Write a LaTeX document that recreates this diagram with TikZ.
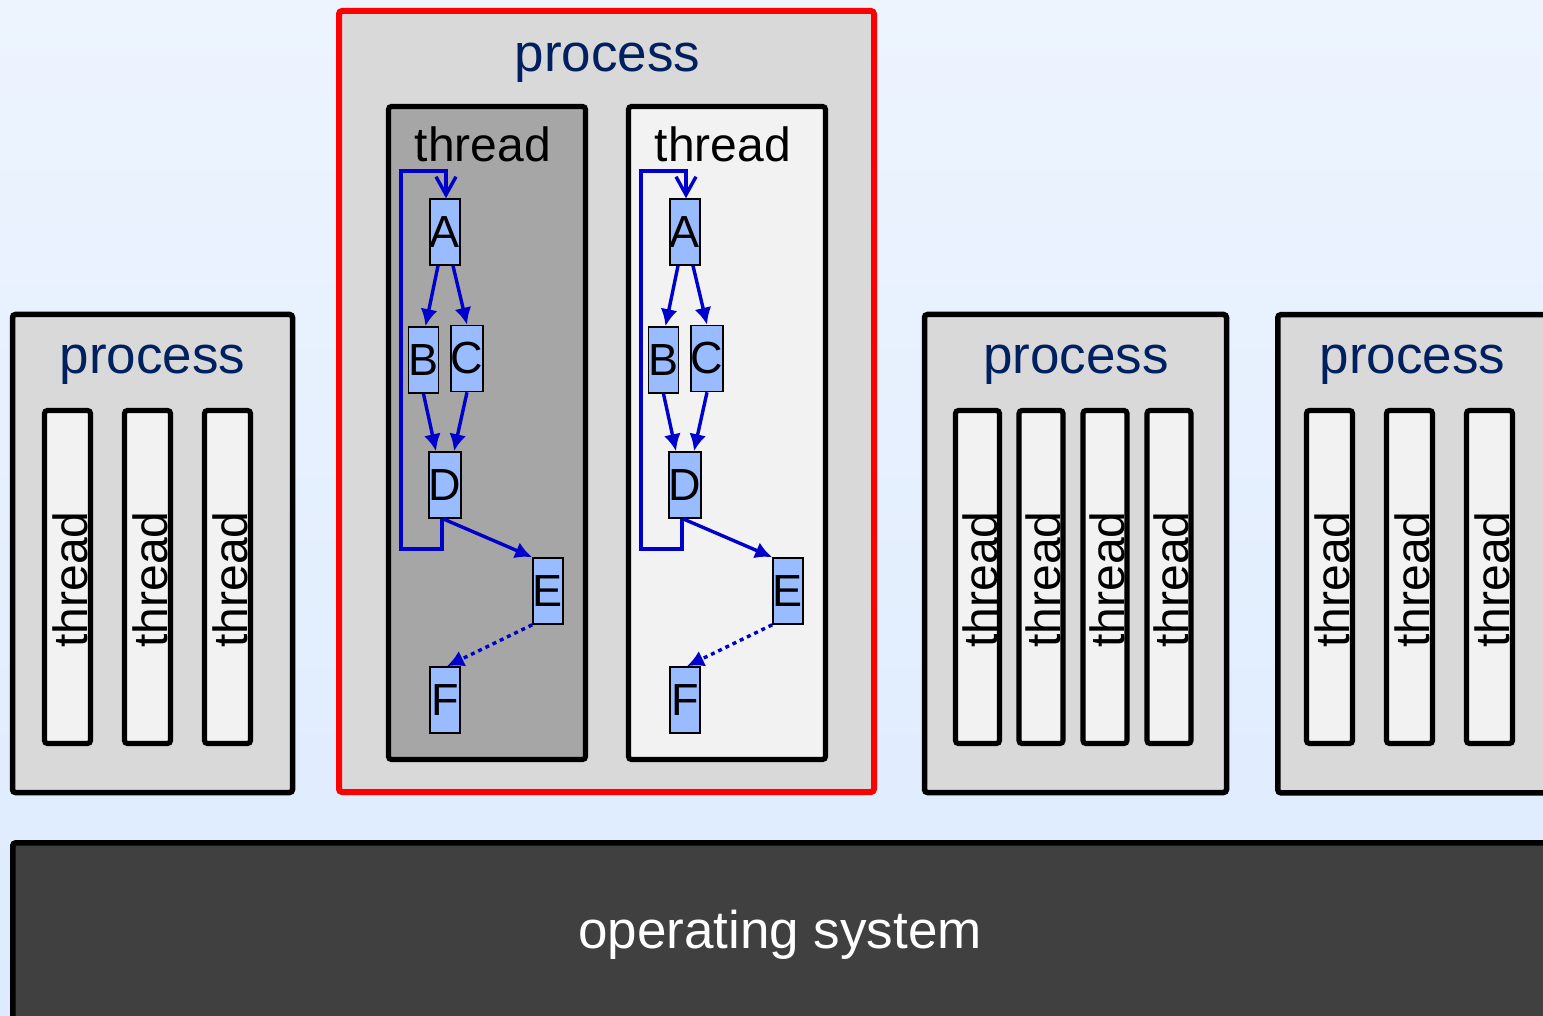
\documentclass[tikz,border=0pt]{standalone}
\usepackage{fontspec}
\setmainfont{Liberation Sans}
\usetikzlibrary{arrows.meta,calc}

\definecolor{bgtop}{RGB}{237,244,254}
\definecolor{bgbot}{RGB}{221,235,254}
\definecolor{procfill}{RGB}{217,217,217}
\definecolor{thrlight}{RGB}{242,242,242}
\definecolor{thrdark}{RGB}{166,166,166}
\definecolor{osfill}{RGB}{64,64,64}
\definecolor{navy}{RGB}{0,32,96}
\definecolor{taskfill}{RGB}{153,187,255}
\definecolor{edgeblue}{RGB}{0,0,204}

\tikzset{
  procbox/.style={draw=black, line width=2.75pt, fill=procfill, rounded corners=1.5pt,
    inner sep=0pt, rectangle},
  redbox/.style={procbox, draw=red, line width=3pt},
  thrbox/.style={draw=black, line width=2.6pt, fill=thrlight, rounded corners=1.5pt,
    inner sep=0pt, rectangle},
  smallthr/.style={thrbox, minimum width=23pt, minimum height=166.5pt},
  osbox/.style={draw=black, line width=2.75pt, fill=osfill, rounded corners=1.5pt,
    inner sep=0pt, rectangle},
  proclabel/.style={text=navy, font=\fontsize{26.5}{30}\selectfont, anchor=base, inner sep=0pt},
  thrlabel/.style={font=\fontsize{24}{28}\selectfont, anchor=base, inner sep=0pt},
  vthrlabel/.style={font=\fontsize{24}{28}\selectfont, rotate=90, inner sep=0pt},
  task/.style={draw=black, line width=0.8pt, fill=taskfill, inner sep=0pt,
    minimum width=15pt, minimum height=33pt, font=\fontsize{22.5}{26}\selectfont},
  flow/.style={draw=edgeblue, line width=1.7pt, -{Latex[length=8.5pt,width=8.5pt]}},
  loopback/.style={draw=edgeblue, line width=1.7pt, -{Straight Barb[length=9pt,width=10pt,line width=1.7pt]}},
  spawn/.style={flow, dash pattern=on 2pt off 2pt},
}

\begin{document}
\begin{tikzpicture}[x=0.5pt, y=-0.5pt]
  % page and background
  \useasboundingbox (0,0) rectangle (1543,1016);
  \shade[top color=bgtop, bottom color=bgbot] (0,0) rectangle (1543,1016);
  \clip (0,0) rectangle (1543,1016);

  % operating system bar
  \node[osbox, minimum width=778pt, minimum height=95pt, anchor=north west] (os) at (10,840) {};
  \node[text=white, font=\fontsize{26.5}{30}\selectfont, anchor=base, inner sep=0pt] (oslabel) at (780,948) {operating system};

  % left process with three threads
  \node[procbox, minimum width=140pt, minimum height=239pt] (p1) at (152.5,553.5) {};
  \node[proclabel] (p1label) at (152.5,373) {process};
  \foreach \i/\x in {1/67.5, 2/147.5, 3/227.5} {
    \node[smallthr] (p1t\i) at (\x,577) {};
    \node[vthrlabel] (p1t\i label) at (\x+2.5,579.5) {thread};
  }

  % highlighted process with two threads
  \node[redbox, minimum width=267.5pt, minimum height=390.5pt] (p2) at (606.5,401.5) {};
  \node[proclabel] (p2label) at (607.5,72) {process};
  \node[thrbox, fill=thrdark, minimum width=98.5pt, minimum height=326.5pt] (ta) at (487,433) {};
  \node[thrbox, minimum width=98.5pt, minimum height=326.5pt] (tb) at (727,433) {};
  \node[thrlabel] (talabel) at (483,162) {thread};
  \node[thrlabel] (tblabel) at (723,162) {thread};

  % task graphs inside the two threads
  \foreach \t/\dx in {a/0, b/240} {
    \node[task] (A\t) at (445+\dx,232) {A};
    \node[task] (B\t) at (423.5+\dx,360) {B};
    \node[task] (C\t) at (467+\dx,358.5) {C};
    \node[task] (D\t) at (445+\dx,485) {D};
    \node[task] (E\t) at (548+\dx,591) {E};
    \node[task] (F\t) at (445+\dx,700) {F};
    \draw[flow] ([xshift=-3.5pt]A\t.south) -- ([xshift=1pt]B\t.north);
    \draw[flow] ([xshift=4pt]A\t.south) -- (C\t.north);
    \draw[flow] (B\t.south) -- ([xshift=-4.5pt]D\t.north);
    \draw[flow] (C\t.south) -- ([xshift=4.5pt]D\t.north);
    \draw[flow] ([xshift=-1pt]D\t.south) -- (E\t.north west);
    \draw[spawn] (E\t.south west) -- ([xshift=1pt]F\t.north);
    \draw[loopback] ([xshift=-1.5pt]D\t.south) -- ++(0,30) -| (401+\dx,171) -| ([xshift=0.5pt]A\t.north);
  }

  % right processes
  \node[procbox, minimum width=151pt, minimum height=239pt] (p3) at (1075.5,553.5) {};
  \node[proclabel] (p3label) at (1076,373) {process};
  \foreach \i/\x in {1/977.5, 2/1041, 3/1105, 4/1169} {
    \node[smallthr, minimum width=22pt] (p3t\i) at (\x,577) {};
    \node[vthrlabel] (p3t\i label) at (\x+2.5,579.5) {thread};
  }

  \node[procbox, minimum width=150pt, minimum height=239pt, anchor=north west] (p4) at (1275,312) {};
  \node[proclabel] (p4label) at (1412.5,373) {process};
  \foreach \i/\x in {1/1329.5, 2/1409.5, 3/1489.5} {
    \node[smallthr] (p4t\i) at (\x,577) {};
    \node[vthrlabel] (p4t\i label) at (\x+2.5,579.5) {thread};
  }
\end{tikzpicture}
\end{document}
